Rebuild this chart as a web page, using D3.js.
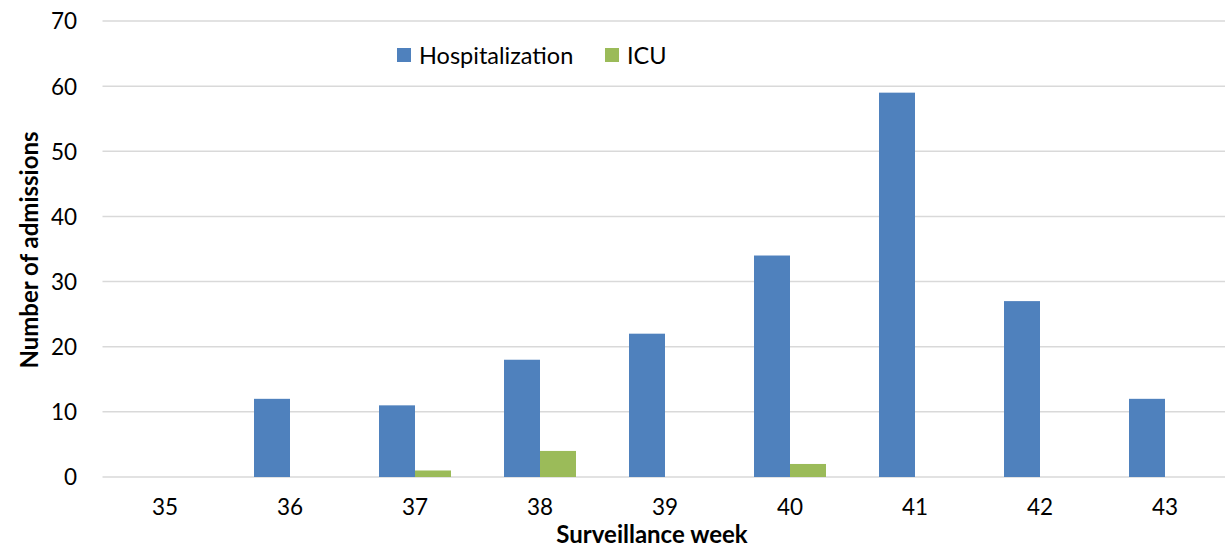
<!DOCTYPE html>
<html>
<head>
<meta charset="utf-8">
<script src="https://cdn.jsdelivr.net/npm/d3@7"></script>
<style>
  body { margin: 0; background: #fff; }
  text { font-family: Lato, "Open Sans", sans-serif; fill: #000; }
</style>
</head>
<body>
<div id="chart"></div>
<script>
// chart data
const weeks = ['35', '36', '37', '38', '39', '40', '41', '42', '43'];
const seriesNames = ['Hospitalization', 'ICU'];
const hospitalization = [0, 12, 11, 18, 22, 34, 59, 27, 12];
const icu = [0, 0, 1, 4, 0, 2, 0, 0, 0];
const yTicks = [0, 10, 20, 30, 40, 50, 60, 70];
const colors = ['#4f81bd', '#9bbb59'];

const width = 1225;
const height = 552;
const margin = { top: 21, right: -2.5, bottom: 75, left: 102.5 };

const svg = d3
  .select('#chart')
  .append('svg')
  .attr('width', width)
  .attr('height', height);

const x = d3
  .scaleBand()
  .domain(weeks)
  .range([margin.left, width - margin.right])
  .padding(0);

// each series gets a 36px slot either side of the week centre
const xInner = d3.scaleBand().domain(seriesNames).range([-36, 36]).padding(0);

const y = d3
  .scaleLinear()
  .domain([0, 70])
  .range([height - margin.bottom, margin.top]);

// gridlines
svg
  .append('g')
  .selectAll('line')
  .data(yTicks)
  .enter()
  .append('line')
  .attr('x1', margin.left)
  .attr('x2', width)
  .attr('y1', (d) => y(d))
  .attr('y2', (d) => y(d))
  .attr('stroke', '#d9d9d9')
  .attr('stroke-width', 1.5);

// y axis labels
const yAxis = d3.axisLeft(y).tickValues(yTicks).tickSize(0).tickPadding(0);
svg
  .append('g')
  .attr('transform', `translate(77,0)`)
  .call(yAxis)
  .call((g) => g.select('.domain').remove())
  .selectAll('text')
  .style('font-size', '22.5px')
  .attr('dy', '0.35em');

// x axis labels
const xAxis = d3.axisBottom(x).tickSize(0).tickPadding(0);
svg
  .append('g')
  .attr('transform', `translate(0,${y(0) + 22})`)
  .call(xAxis)
  .call((g) => g.select('.domain').remove())
  .selectAll('text')
  .style('font-size', '22.5px');

// bars
const rows = weeks.map((w, i) => ({
  week: w,
  values: [
    { key: 'Hospitalization', value: hospitalization[i] },
    { key: 'ICU', value: icu[i] }
  ]
}));

const groups = svg
  .append('g')
  .selectAll('g')
  .data(rows)
  .enter()
  .append('g')
  .attr('transform', (d) => `translate(${x(d.week) + x.bandwidth() / 2},0)`);

groups
  .selectAll('rect')
  .data((d) => d.values.filter((v) => v.value > 0))
  .enter()
  .append('rect')
  .attr('x', (d) => xInner(d.key))
  .attr('width', xInner.bandwidth())
  .attr('y', (d) => y(d.value))
  .attr('height', (d) => y(0) - y(d.value))
  .attr('fill', (d) => colors[seriesNames.indexOf(d.key)]);

// axis titles
svg
  .append('text')
  .attr('x', 652)
  .attr('y', 543)
  .attr('text-anchor', 'middle')
  .style('font-size', '24px')
  .style('font-weight', 'bold')
  .text('Surveillance week');

svg
  .append('text')
  .attr('transform', 'translate(38,250) rotate(-90)')
  .attr('text-anchor', 'middle')
  .style('font-size', '24px')
  .style('font-weight', 'bold')
  .text('Number of admissions');

// legend
const legendX = [397, 605];
const legend = svg.append('g');
seriesNames.forEach((name, i) => {
  legend
    .append('rect')
    .attr('x', legendX[i])
    .attr('y', 48)
    .attr('width', 14)
    .attr('height', 14)
    .attr('fill', colors[i]);
  legend
    .append('text')
    .attr('x', legendX[i] + 22)
    .attr('y', 64)
    .style('font-size', '23.5px')
    .text(name);
});
</script>
</body>
</html>
